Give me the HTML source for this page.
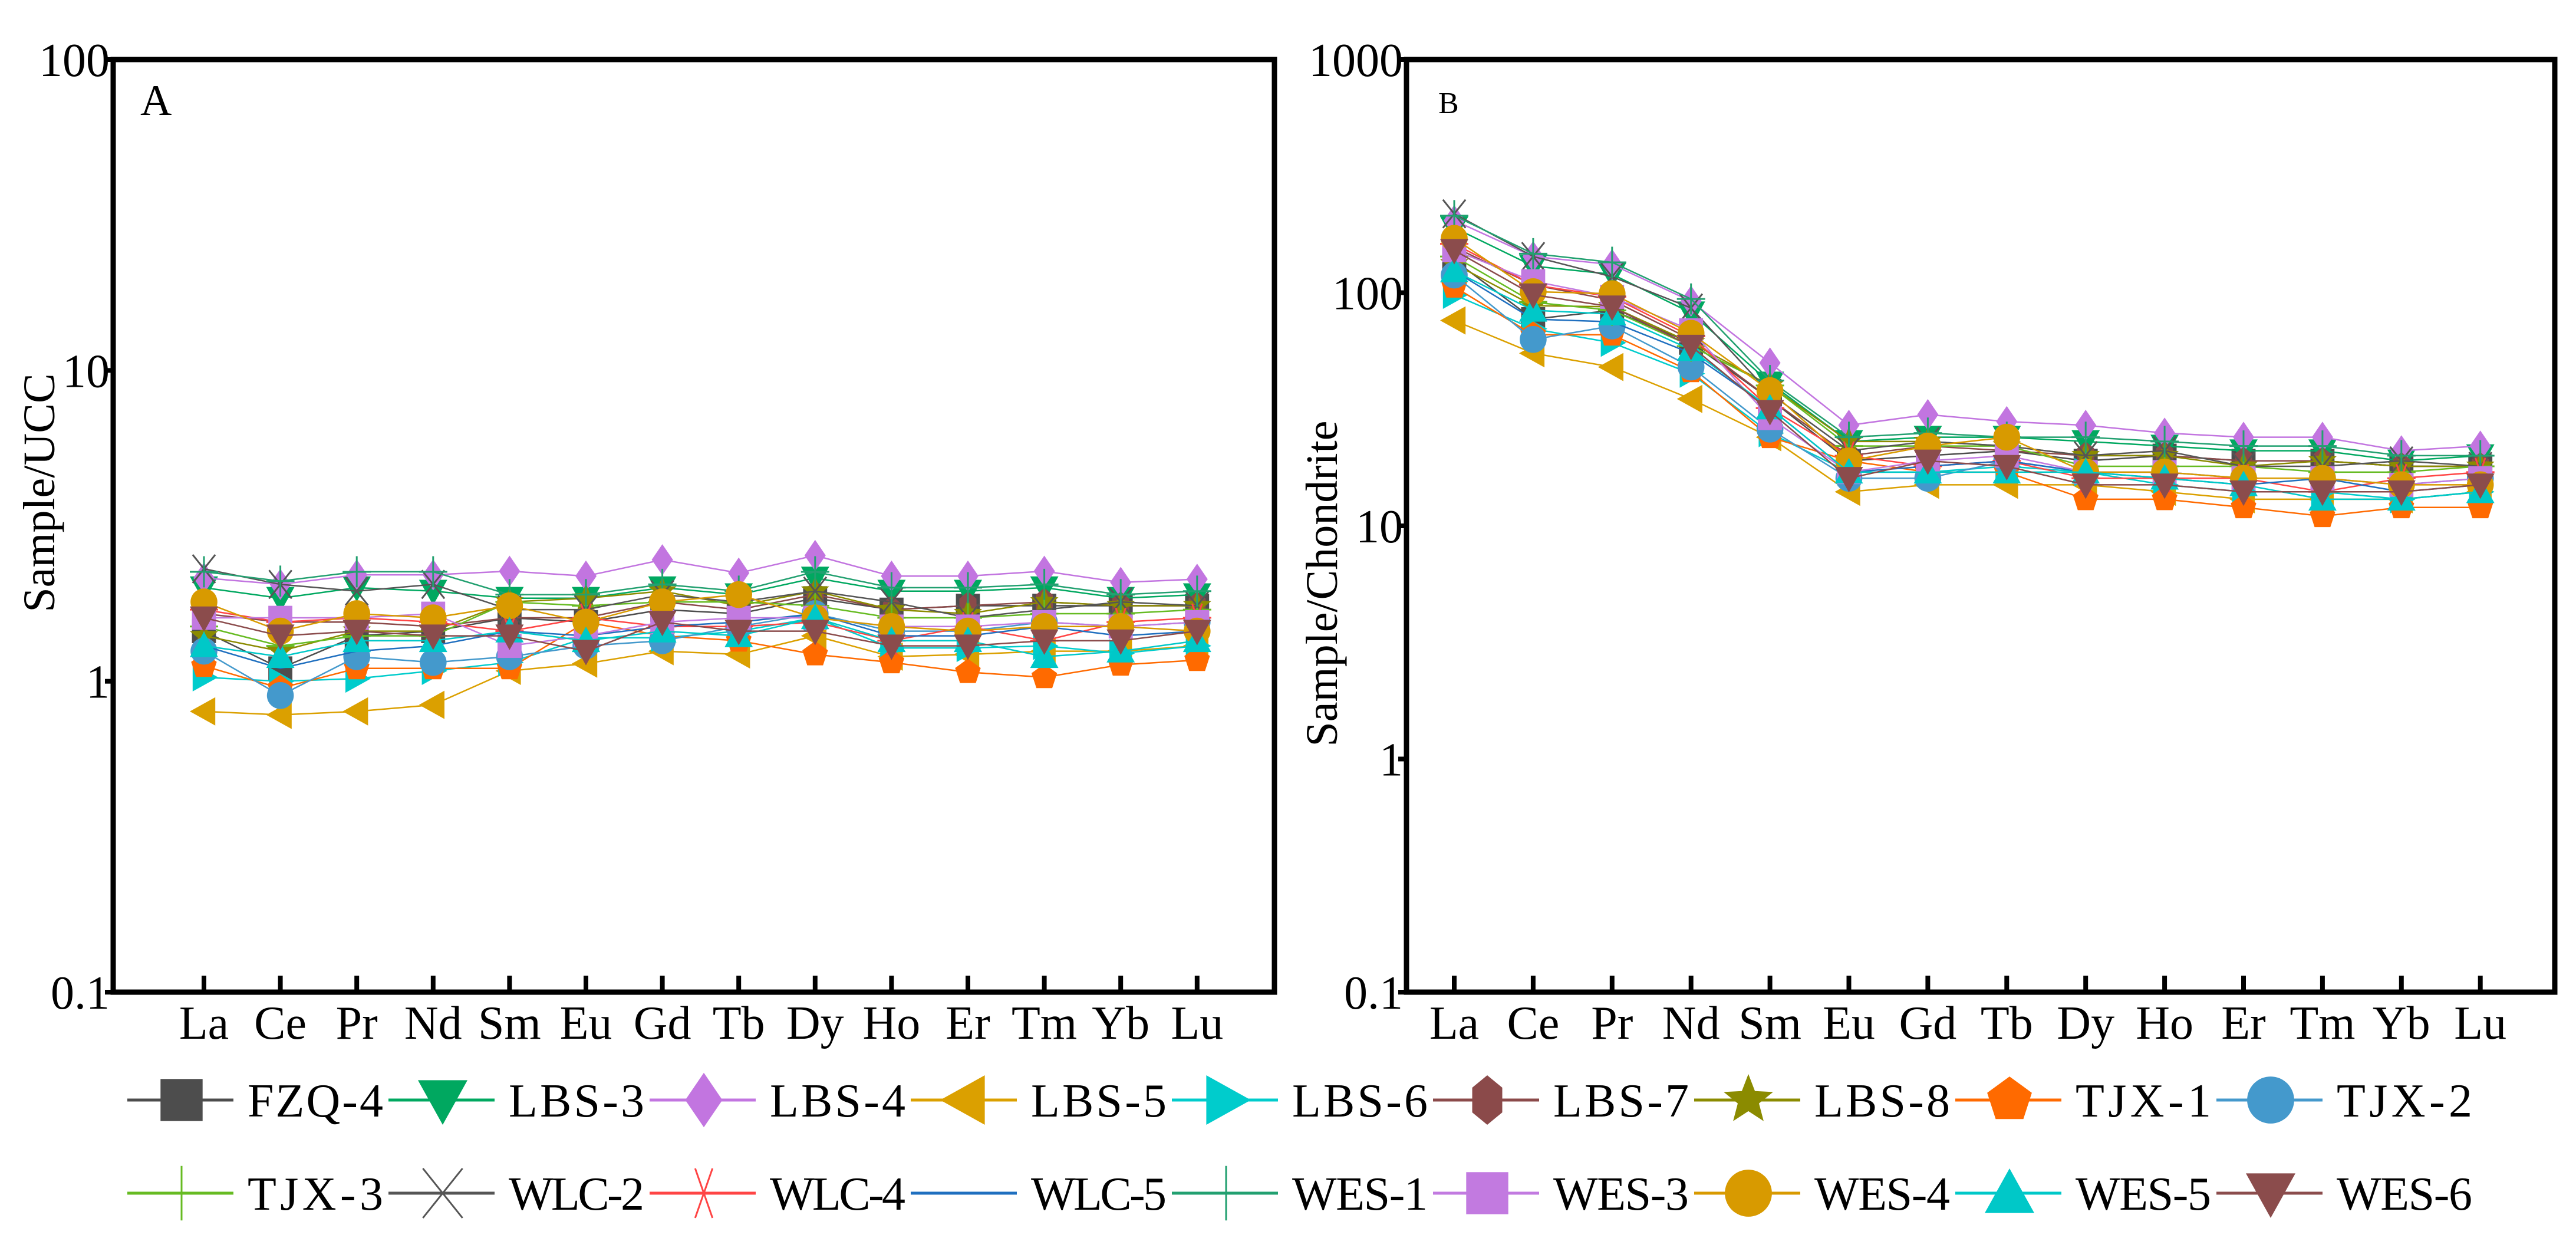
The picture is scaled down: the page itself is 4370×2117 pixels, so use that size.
<!DOCTYPE html>
<html><head><meta charset="utf-8"><style>
html,body{margin:0;padding:0;background:#fff;}
svg{display:block;}
svg text{font-family:"Liberation Serif","Times New Roman",serif;fill:#000;}
</style></head><body>
<svg id="chart" width="4370" height="2117" viewBox="0 0 4370 2117" font-family="Liberation Serif, serif" xmlns="http://www.w3.org/2000/svg"></svg>
<script>
const elements = ["La","Ce","Pr","Nd","Sm","Eu","Gd","Tb","Dy","Ho","Er","Tm","Yb","Lu"];
const sampleNames = ["FZQ-4","LBS-3","LBS-4","LBS-5","LBS-6","LBS-7","LBS-8","TJX-1","TJX-2","TJX-3","WLC-2","WLC-4","WLC-5","WES-1","WES-3","WES-4","WES-5","WES-6"];
const sampleColors = ["#4d4d4d","#00a860","#c275e0","#dba000","#00cccc","#8b4a4a","#8b8b00","#ff6a00","#4499cc","#66bb22","#555555","#ff4444","#1f6fbf","#22a070","#c27ae0","#d89a00","#00c8c8","#8b4c4c"];
const sampleMarkers = ["square","down","diamond","left","right","hexagon","star","pentagon","circle","plus","x","asterisk","none","plus","square","circle","up","down"];
const ticksA = [0.1,1,10,100];
const tickLabelsA = ["0.1","1","10","100"];
const ticksB = [0.1,1,10,100,1000];
const tickLabelsB = ["0.1","1","10","100","1000"];
// Panel A: Sample/UCC
const uccFZQ4 = [1.45,1.1,1.4,1.45,1.6,1.55,1.7,1.65,1.85,1.7,1.75,1.75,1.75,1.75];
const uccLBS3 = [2.0,1.85,2.0,1.95,1.85,1.85,2.0,1.9,2.15,1.95,1.95,2.0,1.85,1.9];
const uccLBS4 = [2.15,2.05,2.2,2.2,2.26,2.18,2.46,2.23,2.54,2.18,2.18,2.26,2.08,2.13];
const uccLBS5 = [0.8,0.78,0.8,0.84,1.08,1.14,1.25,1.22,1.4,1.2,1.22,1.25,1.25,1.3];
const uccLBS6 = [1.03,1.0,1.02,1.08,1.15,1.38,1.38,1.45,1.6,1.28,1.28,1.3,1.23,1.3];
const uccLBS7 = [1.65,1.55,1.55,1.5,1.6,1.6,1.8,1.7,1.9,1.7,1.75,1.8,1.75,1.75];
const uccLBS8 = [1.4,1.25,1.45,1.45,1.8,1.85,1.95,1.75,1.95,1.7,1.65,1.8,1.75,1.75];
const uccTJX1 = [1.12,0.95,1.1,1.1,1.1,1.55,1.4,1.35,1.22,1.15,1.07,1.03,1.13,1.17];
const uccTJX2 = [1.25,0.9,1.2,1.15,1.2,1.3,1.35,1.5,1.65,1.45,1.45,1.55,1.5,1.55];
const uccTJX3 = [1.5,1.3,1.4,1.4,1.8,1.75,1.8,1.8,1.75,1.6,1.6,1.65,1.65,1.7];
const uccWLC2 = [2.3,2.05,1.95,2.05,1.7,1.7,1.9,1.8,1.95,1.8,1.6,1.7,1.8,1.75];
const uccWLC4 = [1.7,1.55,1.6,1.55,1.45,1.6,1.5,1.5,1.55,1.35,1.5,1.35,1.55,1.6];
const uccWLC5 = [1.3,1.1,1.25,1.3,1.45,1.4,1.5,1.55,1.65,1.4,1.4,1.5,1.4,1.45];
const uccWES1 = [2.25,2.1,2.25,2.25,1.9,1.9,2.05,1.95,2.25,2.0,2.0,2.05,1.9,1.95];
const uccWES3 = [1.6,1.6,1.6,1.65,1.3,1.4,1.55,1.6,1.6,1.5,1.5,1.55,1.5,1.55];
const uccWES4 = [1.8,1.45,1.65,1.6,1.75,1.55,1.8,1.9,1.6,1.5,1.45,1.5,1.5,1.45];
const uccWES5 = [1.3,1.2,1.35,1.35,1.45,1.35,1.45,1.4,1.6,1.35,1.35,1.2,1.25,1.35];
const uccWES6 = [1.6,1.4,1.45,1.4,1.4,1.25,1.55,1.45,1.45,1.3,1.3,1.35,1.35,1.45];
// Panel B: Sample/Chondrite
const chFZQ4 = [138,77,84,61,35,19,20,21,19,20,19,19,18,18];
const chLBS3 = [190,130,120,82,41,23,24,24,23,22,21,21,19,20];
const chLBS4 = [204,143,132,92,50,27,30,28,27,25,24,24,21,22];
const chLBS5 = [76,55,48,35,24,14,15,15,15,14,13,13,13,14];
const chLBS6 = [98,70,61,45,25,17,17,18,17,15,14,14,13,14];
const chLBS7 = [157,108,93,63,35,20,22,21,20,20,19,19,18,18];
const chLBS8 = [133,88,87,61,40,23,23,22,20,20,18,19,18,18];
const chTJX1 = [106,66,66,46,24,19,17,17,13,13,12,11,12,12];
const chTJX2 = [119,63,72,48,26,16,16,19,17,17,16,16,15,16];
const chTJX3 = [143,91,84,59,40,22,22,22,18,18,18,17,17,18];
const chWLC2 = [218,143,117,86,37,21,23,22,20,21,18,18,19,18];
const chWLC4 = [162,108,96,65,32,20,18,19,16,16,16,14,16,17];
const chWLC5 = [124,77,75,55,32,17,18,19,17,16,15,16,14,15];
const chWES1 = [214,147,135,94,42,24,25,24,24,23,22,22,20,20];
const chWES3 = [152,112,96,69,29,17,19,20,17,17,16,16,15,16];
const chWES4 = [171,101,99,67,38,19,22,24,17,17,16,16,15,15];
const chWES5 = [124,84,81,57,32,17,17,17,17,16,15,13,13,14];
const chWES6 = [152,98,87,59,31,16,19,18,15,15,14,14,14,15];

const seriesA = [uccFZQ4,uccLBS3,uccLBS4,uccLBS5,uccLBS6,uccLBS7,uccLBS8,uccTJX1,uccTJX2,uccTJX3,uccWLC2,uccWLC4,uccWLC5,uccWES1,uccWES3,uccWES4,uccWES5,uccWES6];
const seriesB = [chFZQ4,chLBS3,chLBS4,chLBS5,chLBS6,chLBS7,chLBS8,chTJX1,chTJX2,chTJX3,chWLC2,chWLC4,chWLC5,chWES1,chWES3,chWES4,chWES5,chWES6];

const NS = "http://www.w3.org/2000/svg";
const svg = document.getElementById('chart');
const FONT = '"Liberation Serif", "Times New Roman", serif';
function mk(tag, attrs, parent){ const e=document.createElementNS(NS,tag); for(const k in attrs) e.setAttribute(k,attrs[k]); if(tag==='text') e.style.fontFamily=FONT; (parent||svg).appendChild(e); return e; }

function markerShape(g, type, cx, cy, r, color){
  let e;
  const pts = arr => arr.map(p=>(cx+p[0]*r).toFixed(1)+','+(cy+p[1]*r).toFixed(1)).join(' ');
  if(type==='square') e=mk('rect',{x:cx-r*0.85,y:cy-r*0.85,width:r*1.7,height:r*1.7,fill:color},g);
  else if(type==='circle') e=mk('circle',{cx:cx,cy:cy,r:r*0.95,fill:color},g);
  else if(type==='down') e=mk('polygon',{points:pts([[-1,-0.8],[1,-0.8],[0,1]]),fill:color},g);
  else if(type==='up') e=mk('polygon',{points:pts([[-1,0.8],[1,0.8],[0,-1]]),fill:color},g);
  else if(type==='left') e=mk('polygon',{points:pts([[0.8,-1],[0.8,1],[-1,0]]),fill:color},g);
  else if(type==='right') e=mk('polygon',{points:pts([[-0.8,-1],[-0.8,1],[1,0]]),fill:color},g);
  else if(type==='diamond') e=mk('polygon',{points:pts([[0,-1.1],[0.75,0],[0,1.1],[-0.75,0]]),fill:color},g);
  else if(type==='hexagon'){ const a=[]; for(let i=0;i<6;i++){const t=Math.PI/2+i*Math.PI/3; a.push([Math.cos(t)*0.7,Math.sin(t)]);} e=mk('polygon',{points:pts(a),fill:color},g); }
  else if(type==='pentagon'){ const a=[]; for(let i=0;i<5;i++){const t=-Math.PI/2+i*2*Math.PI/5; a.push([Math.cos(t)*0.95,Math.sin(t)*0.95]);} e=mk('polygon',{points:pts(a),fill:color},g); }
  else if(type==='star'){ const a=[]; for(let i=0;i<10;i++){const t=-Math.PI/2+i*Math.PI/5; const rr=i%2?0.45:1.05; a.push([Math.cos(t)*rr,Math.sin(t)*rr]);} e=mk('polygon',{points:pts(a),fill:color},g); }
  else if(type==='plus'){ e=mk('path',{d:`M${cx-r} ${cy}H${cx+r}M${cx} ${cy-r*1.1}V${cy+r*1.1}`,stroke:color,'stroke-width':3,fill:'none'},g); }
  else if(type==='x'){ e=mk('path',{d:`M${cx-r*0.8} ${cy-r}L${cx+r*0.8} ${cy+r}M${cx+r*0.8} ${cy-r}L${cx-r*0.8} ${cy+r}`,stroke:color,'stroke-width':3,fill:'none'},g); }
  else if(type==='asterisk'){ e=mk('path',{d:`M${cx-r*0.35} ${cy-r}L${cx+r*0.35} ${cy+r}M${cx+r*0.35} ${cy-r}L${cx-r*0.35} ${cy+r}M${cx-r} ${cy}H${cx+r}`,stroke:color,'stroke-width':3,fill:'none'},g); }
  return e;
}

function drawPanel(cfg){
  const {left,right,top,bottom,xFirst,xStep,minV,maxV,ticks,tickLabels,series,title,titleX,titleY,label,labelX,labelY,labelSize,prefix} = cfg;
  const decades = Math.log10(maxV)-Math.log10(minV);
  const yScale = v => bottom - (Math.log10(v)-Math.log10(minV))/decades*(bottom-top);
  const xScale = i => xFirst + i*xStep;
  const panel = mk('g',{});
  
  
  series.forEach((vals,si)=>{
    const g = mk('g',{},panel);
    
    
    const d = vals.map((v,i)=>(i?'L':'M')+xScale(i).toFixed(1)+' '+yScale(v).toFixed(1)).join(' ');
    const ln = mk('path',{d:d,stroke:sampleColors[si],'stroke-width':2.5,fill:'none'},g);
    
    
    vals.forEach((v,i)=>{
      const m = markerShape(g, sampleMarkers[si], xScale(i), yScale(v), 24, sampleColors[si]);
      if(m){
        
        
      }
    });
  });
  const fr = mk('rect',{x:left,y:top,width:right-left,height:bottom-top,fill:'none',stroke:'#000','stroke-width':9},panel);
  
  
  elements.forEach((el,i)=>{
    const x = xScale(i);
    const t = mk('line',{x1:x,x2:x,y1:bottom,y2:bottom-28,stroke:'#000','stroke-width':8},panel);
    
    
    const tx = mk('text',{x:x,y:1762,'font-size':80,'text-anchor':'middle'},panel);
    tx.textContent = el;
    
    
  });
  ticks.forEach((v,i)=>{
    const y = yScale(v);
    const t = mk('line',{x1:left,x2:left-14,y1:y,y2:y,stroke:'#000','stroke-width':8},panel);
    
    
    const tx = mk('text',{x:left-6,y:y+28,'font-size':80,'text-anchor':'end'},panel);
    tx.textContent = tickLabels[i];
    
    
  });
  const yt = mk('text',{x:titleX,y:titleY,'font-size':76,'text-anchor':'middle',transform:`rotate(-90 ${titleX} ${titleY})`},panel);
  yt.textContent = title;
  
  
  const pl = mk('text',{x:labelX,y:labelY,'font-size':labelSize},panel);
  pl.textContent = label;
  
  
}

drawPanel({prefix:'panel-a',left:192,right:2162,top:101,bottom:1683,xFirst:346,xStep:129.6,minV:0.1,maxV:100,ticks:ticksA,tickLabels:tickLabelsA,series:seriesA,title:'Sample/UCC',titleX:92,titleY:836,label:'A',labelX:238,labelY:195,labelSize:74});
drawPanel({prefix:'panel-b',left:2386,right:4334,top:101,bottom:1683,xFirst:2467,xStep:133.9,minV:0.1,maxV:1000,ticks:ticksB,tickLabels:tickLabelsB,series:seriesB,title:'Sample/Chondrite',titleX:2268,titleY:990,label:'B',labelX:2440,labelY:192,labelSize:52});

const legend = mk('g',{});


sampleNames.forEach((name,si)=>{
  const row = si<9?0:1;
  const col = si%9;
  const cx = 308 + col*443;
  const cy = row===0?1866:2024;
  const g = mk('g',{},legend);
  
  
  mk('line',{x1:cx-92,x2:cx+88,y1:cy,y2:cy,stroke:sampleColors[si],'stroke-width':5},g);
  markerShape(g, sampleMarkers[si], cx, cy, 42, sampleColors[si]);
  const tx = mk('text',{x:cx+112,y:cy+28,'font-size':80,textLength:230,lengthAdjust:'spacing'},g);
  tx.textContent = name;
  
  
});
</script>
</body></html>
